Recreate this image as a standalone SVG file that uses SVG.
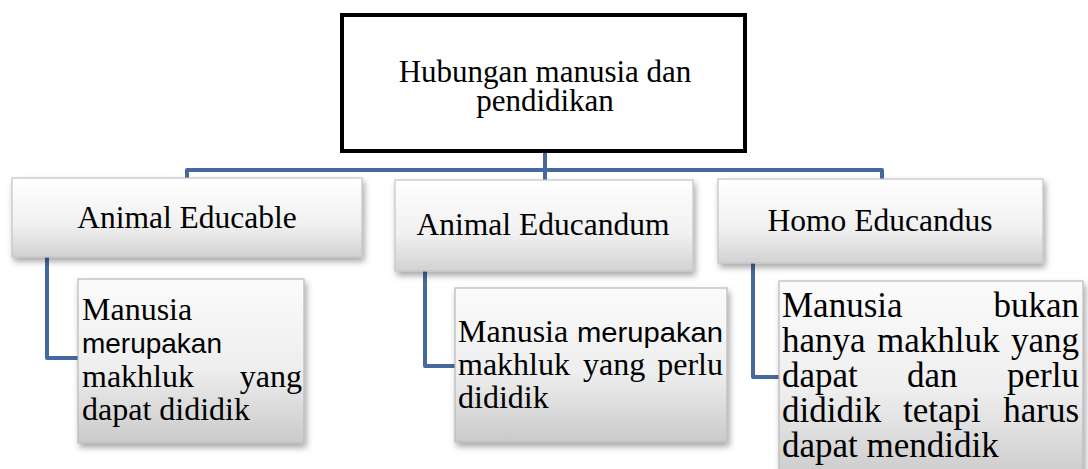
<svg xmlns="http://www.w3.org/2000/svg" width="1088" height="469" viewBox="0 0 1088 469">
<defs>
<linearGradient id="g1" x1="0" y1="0" x2="0" y2="1">
<stop offset="0" stop-color="#ffffff"/>
<stop offset="0.6" stop-color="#f0f0f0"/>
<stop offset="1" stop-color="#d2d2d2"/>
</linearGradient>
<linearGradient id="g2" x1="0" y1="0" x2="0" y2="1">
<stop offset="0" stop-color="#fbfbfb"/>
<stop offset="0.55" stop-color="#eeeeee"/>
<stop offset="1" stop-color="#cacaca"/>
</linearGradient>
<filter id="sh" x="-10%" y="-10%" width="125%" height="130%">
<feDropShadow dx="2" dy="4" stdDeviation="3" flood-color="#000" flood-opacity="0.35"/>
</filter>
</defs>
<style>
.t{font-family:"Liberation Serif","Times New Roman",serif;fill:#000}
.s{font-family:"Liberation Sans",Arial,sans-serif;fill:#000}
.b1{fill:url(#g1);stroke:#c4c4c4;stroke-width:1.2}
.b2{fill:url(#g2);stroke:#b8b8b8;stroke-width:1.2}
.c{fill:none;stroke:#44699c;stroke-width:4;stroke-linejoin:round}
</style>
<g id="connectors">
<path class="c" d="M545 152 V172"/>
<path class="c" d="M187 180 V170 H882 V180"/>
<path class="c" d="M545 170 V182"/>
<path class="c" d="M47 257 V358 H80"/>
<path class="c" d="M425 271 V366 H457"/>
<path class="c" d="M753 263 V377 H781"/>
</g>
<g id="root">
<rect x="342" y="15" width="403" height="136" fill="#fff" stroke="#000" stroke-width="4"/>
<text class="t" font-size="31" x="545" y="82" text-anchor="middle">Hubungan manusia dan</text>
<text class="t" font-size="31" x="545" y="111" text-anchor="middle">pendidikan</text>
</g>
<g id="animal-educable">
<rect class="b1" filter="url(#sh)" x="12" y="178" width="350" height="79"/>
<text class="t" font-size="31.5" x="187" y="228" text-anchor="middle">Animal Educable</text>
</g>
<g id="animal-educandum">
<rect class="b1" filter="url(#sh)" x="395" y="180" width="298" height="91"/>
<text class="t" font-size="31.5" x="543" y="235" text-anchor="middle">Animal Educandum</text>
</g>
<g id="homo-educandus">
<rect class="b1" filter="url(#sh)" x="718" y="179" width="325" height="84"/>
<text class="t" font-size="31.5" x="880" y="231" text-anchor="middle">Homo Educandus</text>
</g>
<g id="desc-educable">
<rect class="b2" filter="url(#sh)" x="78" y="279" width="226" height="164"/>
<text class="t" font-size="32" x="82" y="320">Manusia</text>
<text class="s" font-size="28" x="82" y="353" textLength="140" lengthAdjust="spacingAndGlyphs">merupakan</text>
<text class="t" font-size="32" x="82" y="387">makhluk</text>
<text class="t" font-size="32" x="302" y="387" text-anchor="end">yang</text>
<text class="t" font-size="32" x="82" y="420">dapat dididik</text>
</g>
<g id="desc-educandum">
<rect class="b2" filter="url(#sh)" x="455" y="288" width="272" height="154"/>
<text class="t" font-size="32" x="458" y="342">Manusia</text>
<text class="s" font-size="28" x="577" y="342" textLength="146" lengthAdjust="spacingAndGlyphs">merupakan</text>
<text class="t" font-size="32" x="458" y="375">makhluk</text>
<text class="t" font-size="32" x="583" y="375">yang</text>
<text class="t" font-size="32" x="723" y="375" text-anchor="end">perlu</text>
<text class="t" font-size="32" x="458" y="408">dididik</text>
</g>
<g id="desc-homo">
<rect class="b2" filter="url(#sh)" x="779" y="281" width="304" height="200"/>
<text class="t" font-size="35" x="782" y="317">Manusia</text>
<text class="t" font-size="35" x="1079" y="317" text-anchor="end">bukan</text>
<text class="t" font-size="35" x="782" y="352">hanya</text>
<text class="t" font-size="35" x="877" y="352">makhluk</text>
<text class="t" font-size="35" x="1079" y="352" text-anchor="end">yang</text>
<text class="t" font-size="35" x="782" y="387">dapat</text>
<text class="t" font-size="35" x="907" y="387">dan</text>
<text class="t" font-size="35" x="1079" y="387" text-anchor="end">perlu</text>
<text class="t" font-size="35" x="782" y="422">dididik</text>
<text class="t" font-size="35" x="903" y="422">tetapi</text>
<text class="t" font-size="35" x="1079" y="422" text-anchor="end">harus</text>
<text class="t" font-size="35" x="782" y="457">dapat mendidik</text>
</g>
</svg>
